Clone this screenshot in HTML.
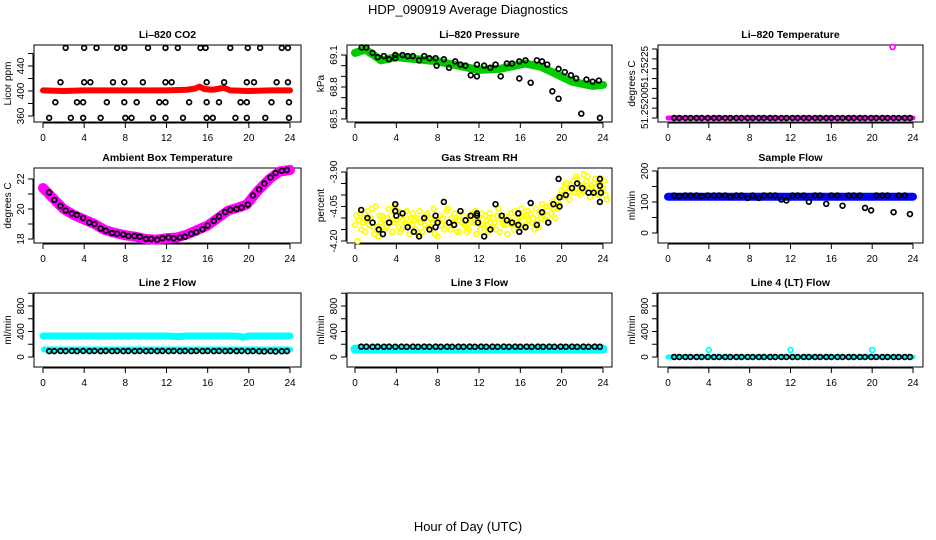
<!DOCTYPE html>
<html><head><meta charset="utf-8"><style>
html,body{margin:0;padding:0;background:#fff;width:936px;height:540px;overflow:hidden}
svg{display:block;font-family:"Liberation Sans",sans-serif}
</style></head><body>
<svg id="c" width="936" height="540" viewBox="0 0 936 540">
<text x="468" y="14" text-anchor="middle" font-size="13">HDP_090919  Average Diagnostics</text>
<text x="468" y="531" text-anchor="middle" font-size="13">Hour of Day (UTC)</text>
</svg>
<script>
// ---- data ----
const xTicks=[0,4,8,12,16,20,24];
const co2RedT=[0,2,4,6,8,10,12,14,14.8,15.2,15.7,16.5,17.2,17.6,18.2,20,22,24];
const co2RedV=[401,400,401,401,401,401,401,402,404,407,403,402,404,405,401,400,401,401];
const co2BlkT=[2.2,4.0,5.2,7.2,7.9,10.2,11.9,13.1,15.3,15.8,18.2,19.9,21.1,23.2,23.8,
1.7,4.0,4.6,6.8,7.9,9.7,11.9,12.5,15.9,17.6,19.8,20.5,22.7,23.8,
1.2,3.3,3.9,6.2,7.9,9.1,11.3,11.9,14.2,15.9,17.1,19.2,19.8,22.2,23.9,
0.6,2.7,3.9,5.6,8.0,8.6,10.7,11.9,13.6,15.9,16.5,18.7,19.8,21.6,23.9];
const co2BlkV=[469,469,469,469,469,469,469,469,469,469,469,469,469,469,469,
414,414,414,414,414,414,414,414,414,414,414,414,414,414,
382,382,382,382,382,382,382,382,382,382,382,382,382,382,382,
357,357,357,357,357,357,357,357,357,357,357,357,357,357,357];
const presGreenT=[0,1,1.8,2.5,4,6,8,10,12,14,15.5,16.5,18,19.5,21,23,24];
const presGreenV=[69.12,69.15,69.10,69.05,69.08,69.06,69.04,69.00,68.96,68.97,69.00,69.02,68.99,68.92,68.85,68.81,68.82];
const presBlkT=[0.65,1.1,1.7,2.2,2.8,3.3,3.9,3.9,4.6,5.1,5.6,6.2,6.7,7.2,7.8,7.9,8.6,9.1,9.7,10.2,10.7,11.2,11.8,11.8,12.5,13.1,13.6,14.1,14.7,15.2,15.9,15.9,16.5,17.0,17.6,18.1,18.6,19.1,19.7,19.7,20.3,20.9,21.4,21.9,22.4,23.0,23.6,23.7];
const presBlkV=[69.17,69.17,69.12,69.08,69.09,69.06,69.10,69.07,69.10,69.09,69.09,69.05,69.09,69.07,69.07,69.00,69.06,68.98,69.04,69.01,69.00,68.91,68.90,69.01,69.00,68.98,69.01,68.90,69.02,69.02,68.88,69.04,69.05,68.84,69.05,69.04,69.01,68.76,68.97,68.69,68.94,68.91,68.88,68.55,68.87,68.85,68.86,68.51];
const blkT=[0.6,1.1,1.7,2.2,2.8,3.3,3.9,4.5,5.0,5.6,6.1,6.7,7.2,7.8,8.3,8.9,9.4,10.0,10.5,11.1,11.6,12.2,12.7,13.3,13.8,14.4,14.9,15.5,16.0,16.6,17.1,17.7,18.2,18.8,19.3,19.9,20.4,21.0,21.5,22.1,22.6,23.2,23.7];
const tempMagT=[0,24];
const tempMagV=[51.252,51.252];
const tempBlkV=[51.252,51.252,51.252,51.252,51.252,51.252,51.252,51.252,51.252,51.252,51.252,51.252,51.252,51.252,51.252,51.252,51.252,51.252,51.252,51.252,51.252,51.252,51.252,51.252,51.252,51.252,51.252,51.252,51.252,51.252,51.252,51.252,51.252,51.252,51.252,51.252,51.252,51.252,51.252,51.252,51.252,51.252,51.252];
const tempOutT=[22.0];
const tempOutV=[51.25236];
const ambT=[0,1,2,3,4,5,6,7,8,9,10,11,12,13,14,15,16,17,18,19,19.8,20.5,21,22,23,24];
const ambV=[21.4,20.7,20.0,19.6,19.3,19.0,18.6,18.4,18.25,18.15,18.0,17.95,18.05,18.1,18.3,18.6,18.9,19.4,19.9,20.1,20.3,20.9,21.3,22.0,22.5,22.6];
const ambBlkV=[21.1,20.6,20.2,19.9,19.7,19.6,19.4,19.1,19.0,18.7,18.55,18.4,18.35,18.3,18.2,18.2,18.15,18.0,18.0,17.95,18.05,18.1,18.05,18.1,18.15,18.35,18.45,18.65,18.9,19.2,19.5,19.8,19.95,20.0,20.1,20.3,20.9,21.3,21.7,22.1,22.4,22.55,22.6];
const rhT=[0,0.5,1,1.5,2,2.5,3,3.5,4,4.5,5,5.5,6,6.5,7,7.5,8,8.5,9,9.5,10,10.5,11,11.5,12,12.5,13,13.5,14,14.5,15,15.5,16,16.5,17,17.5,18,18.5,19,19.5,20,20.5,21,21.5,22,22.5,23,23.5,24];
const rhA=[-4.13,-4.08,-4.16,-4.10,-4.05,-4.12,-4.14,-4.09,-4.11,-4.15,-4.07,-4.13,-4.10,-4.16,-4.08,-4.12,-4.18,-4.10,-4.06,-4.13,-4.11,-4.09,-4.15,-4.12,-4.10,-4.14,-4.08,-4.12,-4.16,-4.09,-4.11,-4.07,-4.10,-4.13,-4.08,-4.06,-4.10,-4.05,-4.08,-4.02,-3.98,-3.95,-3.97,-3.93,-3.96,-3.92,-3.98,-3.95,-3.97];
const rhB=[-4.09,-4.15,-4.11,-4.06,-4.14,-4.09,-4.10,-4.16,-4.07,-4.11,-4.13,-4.08,-4.17,-4.11,-4.14,-4.06,-4.11,-4.15,-4.12,-4.08,-4.16,-4.13,-4.10,-4.07,-4.15,-4.09,-4.12,-4.15,-4.10,-4.13,-4.08,-4.12,-4.06,-4.09,-4.12,-4.11,-4.04,-4.09,-4.03,-4.06,-4.01,-3.99,-3.94,-3.99,-3.91,-3.97,-3.95,-4.00,-3.94];
const rhC=[-4.20,-4.12,-4.07,-4.14,-4.18,-4.11,-4.06,-4.12,-4.14,-4.09,-4.17,-4.11,-4.07,-4.13,-4.10,-4.17,-4.09,-4.13,-4.15,-4.10,-4.07,-4.14,-4.12,-4.17,-4.08,-4.11,-4.14,-4.09,-4.12,-4.17,-4.13,-4.10,-4.14,-4.07,-4.10,-4.14,-4.08,-4.12,-4.06,-4.04,-3.97,-4.02,-3.99,-3.96,-3.98,-4.01,-3.93,-3.97,-4.00];
const rhD=[-4.11,-4.10,-4.13,-4.17,-4.09,-4.15,-4.12,-4.05,-4.16,-4.12,-4.10,-4.15,-4.12,-4.09,-4.15,-4.11,-4.13,-4.07,-4.10,-4.16,-4.12,-4.16,-4.08,-4.11,-4.13,-4.16,-4.10,-4.06,-4.13,-4.11,-4.15,-4.13,-4.09,-4.11,-4.15,-4.08,-4.11,-4.05,-4.10,-4.00,-3.95,-3.97,-3.92,-4.00,-3.94,-3.96,-3.99,-3.93,-4.02];
const rhBlkT=[0.6,1.2,1.7,2.3,2.7,3.3,3.9,3.9,4.0,4.6,5.1,5.7,6.2,6.7,7.2,7.8,7.8,8.0,8.6,9.1,9.6,10.2,10.7,11.2,11.8,11.8,11.9,12.5,13.1,13.6,14.2,14.7,15.2,15.8,15.8,15.9,16.5,17.0,17.6,18.1,18.7,19.2,19.7,19.8,19.8,20.4,21.0,21.5,22.0,22.6,23.1,23.7,23.7,23.8,23.7];
const rhBlkV=[-4.065,-4.10,-4.12,-4.15,-4.17,-4.12,-4.04,-4.07,-4.09,-4.08,-4.14,-4.16,-4.18,-4.10,-4.15,-4.14,-4.09,-4.12,-4.03,-4.12,-4.13,-4.07,-4.11,-4.09,-4.08,-4.09,-4.12,-4.18,-4.15,-4.04,-4.09,-4.11,-4.12,-4.08,-4.13,-4.16,-4.14,-4.035,-4.13,-4.075,-4.12,-4.04,-3.93,-4.01,-4.05,-4.00,-3.97,-3.95,-3.97,-3.99,-3.99,-3.93,-3.96,-3.99,-4.03];
const sfBlueT=[0,24];
const sfBlueV=[117,117];
const sfBlkV=[121,119,121,121,121,119,121,121,121,121,116,121,121,113,121,113,121,121,121,108,105,121,121,121,101,121,121,94,121,121,88,121,121,121,81,73,121,121,121,67,121,121,61];
const l2UpT=[0,4,8,12,13,14,16,18,19,19.5,20,24];
const l2UpV=[330,330,330,330,320,330,330,330,325,310,330,330];
const l2LoT=[0.1,24];
const l2LoV=[118,118];
const l2BlkV=[92,92,94,92,94,92,94,92,94,92,94,92,94,92,94,92,94,92,94,92,94,92,94,92,94,92,94,92,94,92,94,92,94,92,94,90,92,90,88,92,88,90,92];
const l3CyT=[0,24];
const l3CyV=[125,125];
const l3BlkV=[162,162,160,162,160,162,160,162,160,162,160,162,160,162,160,162,160,162,160,162,160,162,160,162,160,162,160,162,160,162,160,162,160,162,160,162,160,162,160,162,160,162,160];
const l4CyT=[0,24];
const l4CyV=[0,0];
const l4OutT=[4.0,12.0,20.0];
const l4OutV=[110,110,110];
const l4BlkV=[0,0,0,0,0,0,0,0,0,0,0,0,0,0,0,0,0,0,0,0,0,0,0,0,0,0,0,0,0,0,0,0,0,0,0,0,0,0,0,0,0,0,0];

// ---- layout ----
const svg=document.getElementById('c');
const NS='http://www.w3.org/2000/svg';
const cols=[{l:34,r:301,x0:43,x24:290},{l:347,r:612,x0:355,x24:603},{l:658,r:923,x0:668,x24:913}];
const rows=[{t:45,b:122},{t:168,b:243},{t:293,b:367}];
function mk(tag,attrs,parent){const e=document.createElementNS(NS,tag);for(const k in attrs)e.setAttribute(k,attrs[k]);(parent||svg).appendChild(e);return e;}

function panel(ci,ri,name,title,ylab,cal,ticks,labels){
  const c=cols[ci],r=rows[ri];
  const g=mk('g',{});
  
  
  const sx=t=>c.x0+(t/24)*(c.x24-c.x0);
  const sy=v=>cal[1]+(v-cal[0])*(cal[3]-cal[1])/(cal[2]-cal[0]);
  const tt=mk('text',{x:(c.l+c.r)/2,y:r.t-7,'text-anchor':'middle','font-size':10.5,'font-weight':'bold'},g);
  tt.textContent=title;
  
  
  const box=mk('rect',{x:c.l,y:r.t,width:c.r-c.l,height:r.b-r.t,fill:'none',stroke:'#000','stroke-width':1},g);
  
  
  const xa=mk('g',{},g);
  
  
  mk('line',{x1:sx(0),x2:sx(24),y1:r.b+1,y2:r.b+1,stroke:'#000'},xa);
  xTicks.forEach(t=>{
    mk('line',{x1:sx(t),x2:sx(t),y1:r.b+1,y2:r.b+6,stroke:'#000'},xa);
    const l=mk('text',{x:sx(t),y:r.b+19,'text-anchor':'middle','font-size':10},xa);
    l.textContent=t;
  });
  const ya=mk('g',{},g);
  
  
  mk('line',{x1:c.l-1,x2:c.l-1,y1:sy(ticks[0]),y2:sy(ticks[ticks.length-1]),stroke:'#000'},ya);
  ticks.forEach(v=>mk('line',{x1:c.l-6,x2:c.l-1,y1:sy(v),y2:sy(v),stroke:'#000'},ya));
  labels.forEach(lb=>{
    const y=sy(lb[1]);
    const l=mk('text',{transform:`translate(${c.l-10},${y}) rotate(-90)`,'text-anchor':'middle','font-size':10},ya);
    l.textContent=lb[0];
  });
  const yl=mk('text',{transform:`translate(${c.l-23},${(r.t+r.b)/2}) rotate(-90)`,'text-anchor':'middle','font-size':10},g);
  yl.textContent=ylab;
  
  
  const clip=mk('clipPath',{id:'cl'+name},g);
  mk('rect',{x:c.l,y:r.t-6,width:c.r-c.l,height:r.b-r.t+12},clip);
  const pg=mk('g',{'clip-path':'url(#cl'+name+')'},g);
  return {
    band(T,V,color,w,nm){
      const p=mk('polyline',{points:T.map((t,i)=>sx(t)+','+sy(V[i])).join(' '),fill:'none',stroke:color,'stroke-width':w,'stroke-linejoin':'round','stroke-linecap':'round'},pg);
      
      
    },
    pts(T,V,color,nm,dt){
      const sg=mk('g',{},pg);
      
      
      T.forEach((t,i)=>{
        const e=mk('circle',{cx:sx(t+(dt||0)),cy:sy(V[i]),r:2.4,fill:'none',stroke:color,'stroke-width':1.7},sg);
        
        
      });
    }
  };
}

// CO2
let p=panel(0,0,'co2','Li\u2013820 CO2','Licor ppm',[360,116,440,66],[360,380,400,420,440,460],[['360',360],['400',400],['440',440]]);
p.band(co2RedT,co2RedV,'#ff0000',6,'co2-red-series');
p.pts(co2BlkT,co2BlkV,'#000','co2-black-series');
// Pressure
p=panel(1,0,'pressure','Li\u2013820 Pressure','kPa',[69.1,55,68.5,119],[68.5,68.6,68.7,68.8,68.9,69.0,69.1],[['68.5',68.5],['68.8',68.8],['69.1',69.1]]);
p.band(presGreenT,presGreenV,'#00cc00',8,'pressure-green-series');
p.pts(presBlkT,presBlkV,'#000','pressure-black-series');
// Temperature
p=panel(2,0,'li820-temp','Li\u2013820 Temperature','degrees C',[51.252,118,51.25235,49],[51.252,51.25205,51.2521,51.25215,51.2522,51.25225,51.2523,51.25235],[['51.25200',51.25205],['51.25225',51.25226]]);
p.band(tempMagT,tempMagV,'#ff00ff',5,'li820-temp-magenta-series');
p.pts(blkT,tempBlkV,'#000','li820-temp-black-series');
p.pts(tempOutT,tempOutV,'#ff00ff','li820-temp-outlier');
// Ambient
p=panel(0,1,'ambient','Ambient Box Temperature','degrees C',[22,179,18,239],[18,19,20,21,22],[['18',18],['20',20],['22',22]]);
p.band(ambT,ambV,'#ff00ff',10,'ambient-magenta-series');
p.pts(blkT,ambBlkV,'#000','ambient-black-series');
// RH
p=panel(1,1,'rh','Gas Stream RH','percent',[-3.9,172,-4.2,241],[-4.2,-4.15,-4.1,-4.05,-4.0,-3.95,-3.9],[['-4.20',-4.2],['-4.05',-4.05],['-3.90',-3.9]]);
p.pts(rhT,rhA,'#ffff00','rh-yellow-series-a',0);
p.pts(rhT,rhB,'#ffff00','rh-yellow-series-b',0.12);
p.pts(rhT,rhC,'#ffff00','rh-yellow-series-c',0.25);
p.pts(rhT,rhD,'#ffff00','rh-yellow-series-d',0.37);
p.pts(rhBlkT,rhBlkV,'#000','rh-black-series');
// Sample flow
p=panel(2,1,'sample-flow','Sample Flow','ml/min',[200,171,0,233],[0,50,100,150,200],[['0',0],['100',100],['200',200]]);
p.band(sfBlueT,sfBlueV,'#0000ff',8,'sample-flow-blue-series');
p.pts(blkT,sfBlkV,'#000','sample-flow-black-series');
// Line 2
const flowTicks=[0,200,400,600,800,1000],flowLabels=[['0',0],['400',400],['800',800]];
p=panel(0,2,'line2','Line 2 Flow','ml/min',[0,357,800,306],flowTicks,flowLabels);
p.band(l2UpT,l2UpV,'#00ffff',7,'line2-cyan-upper-series');
p.band(l2LoT,l2LoV,'#00ffff',6,'line2-cyan-lower-series');
p.pts(blkT,l2BlkV,'#000','line2-black-series');
// Line 3
p=panel(1,2,'line3','Line 3 Flow','ml/min',[0,357,800,306],flowTicks,flowLabels);
p.band(l3CyT,l3CyV,'#00ffff',9,'line3-cyan-series');
p.pts(blkT,l3BlkV,'#000','line3-black-series');
// Line 4
p=panel(2,2,'line4','Line 4 (LT) Flow','ml/min',[0,357,800,306],flowTicks,flowLabels);
p.band(l4CyT,l4CyV,'#00ffff',5,'line4-cyan-series');
p.pts(blkT,l4BlkV,'#000','line4-black-series');
p.pts(l4OutT,l4OutV,'#00ffff','line4-cyan-outliers');
</script>
</body></html>
